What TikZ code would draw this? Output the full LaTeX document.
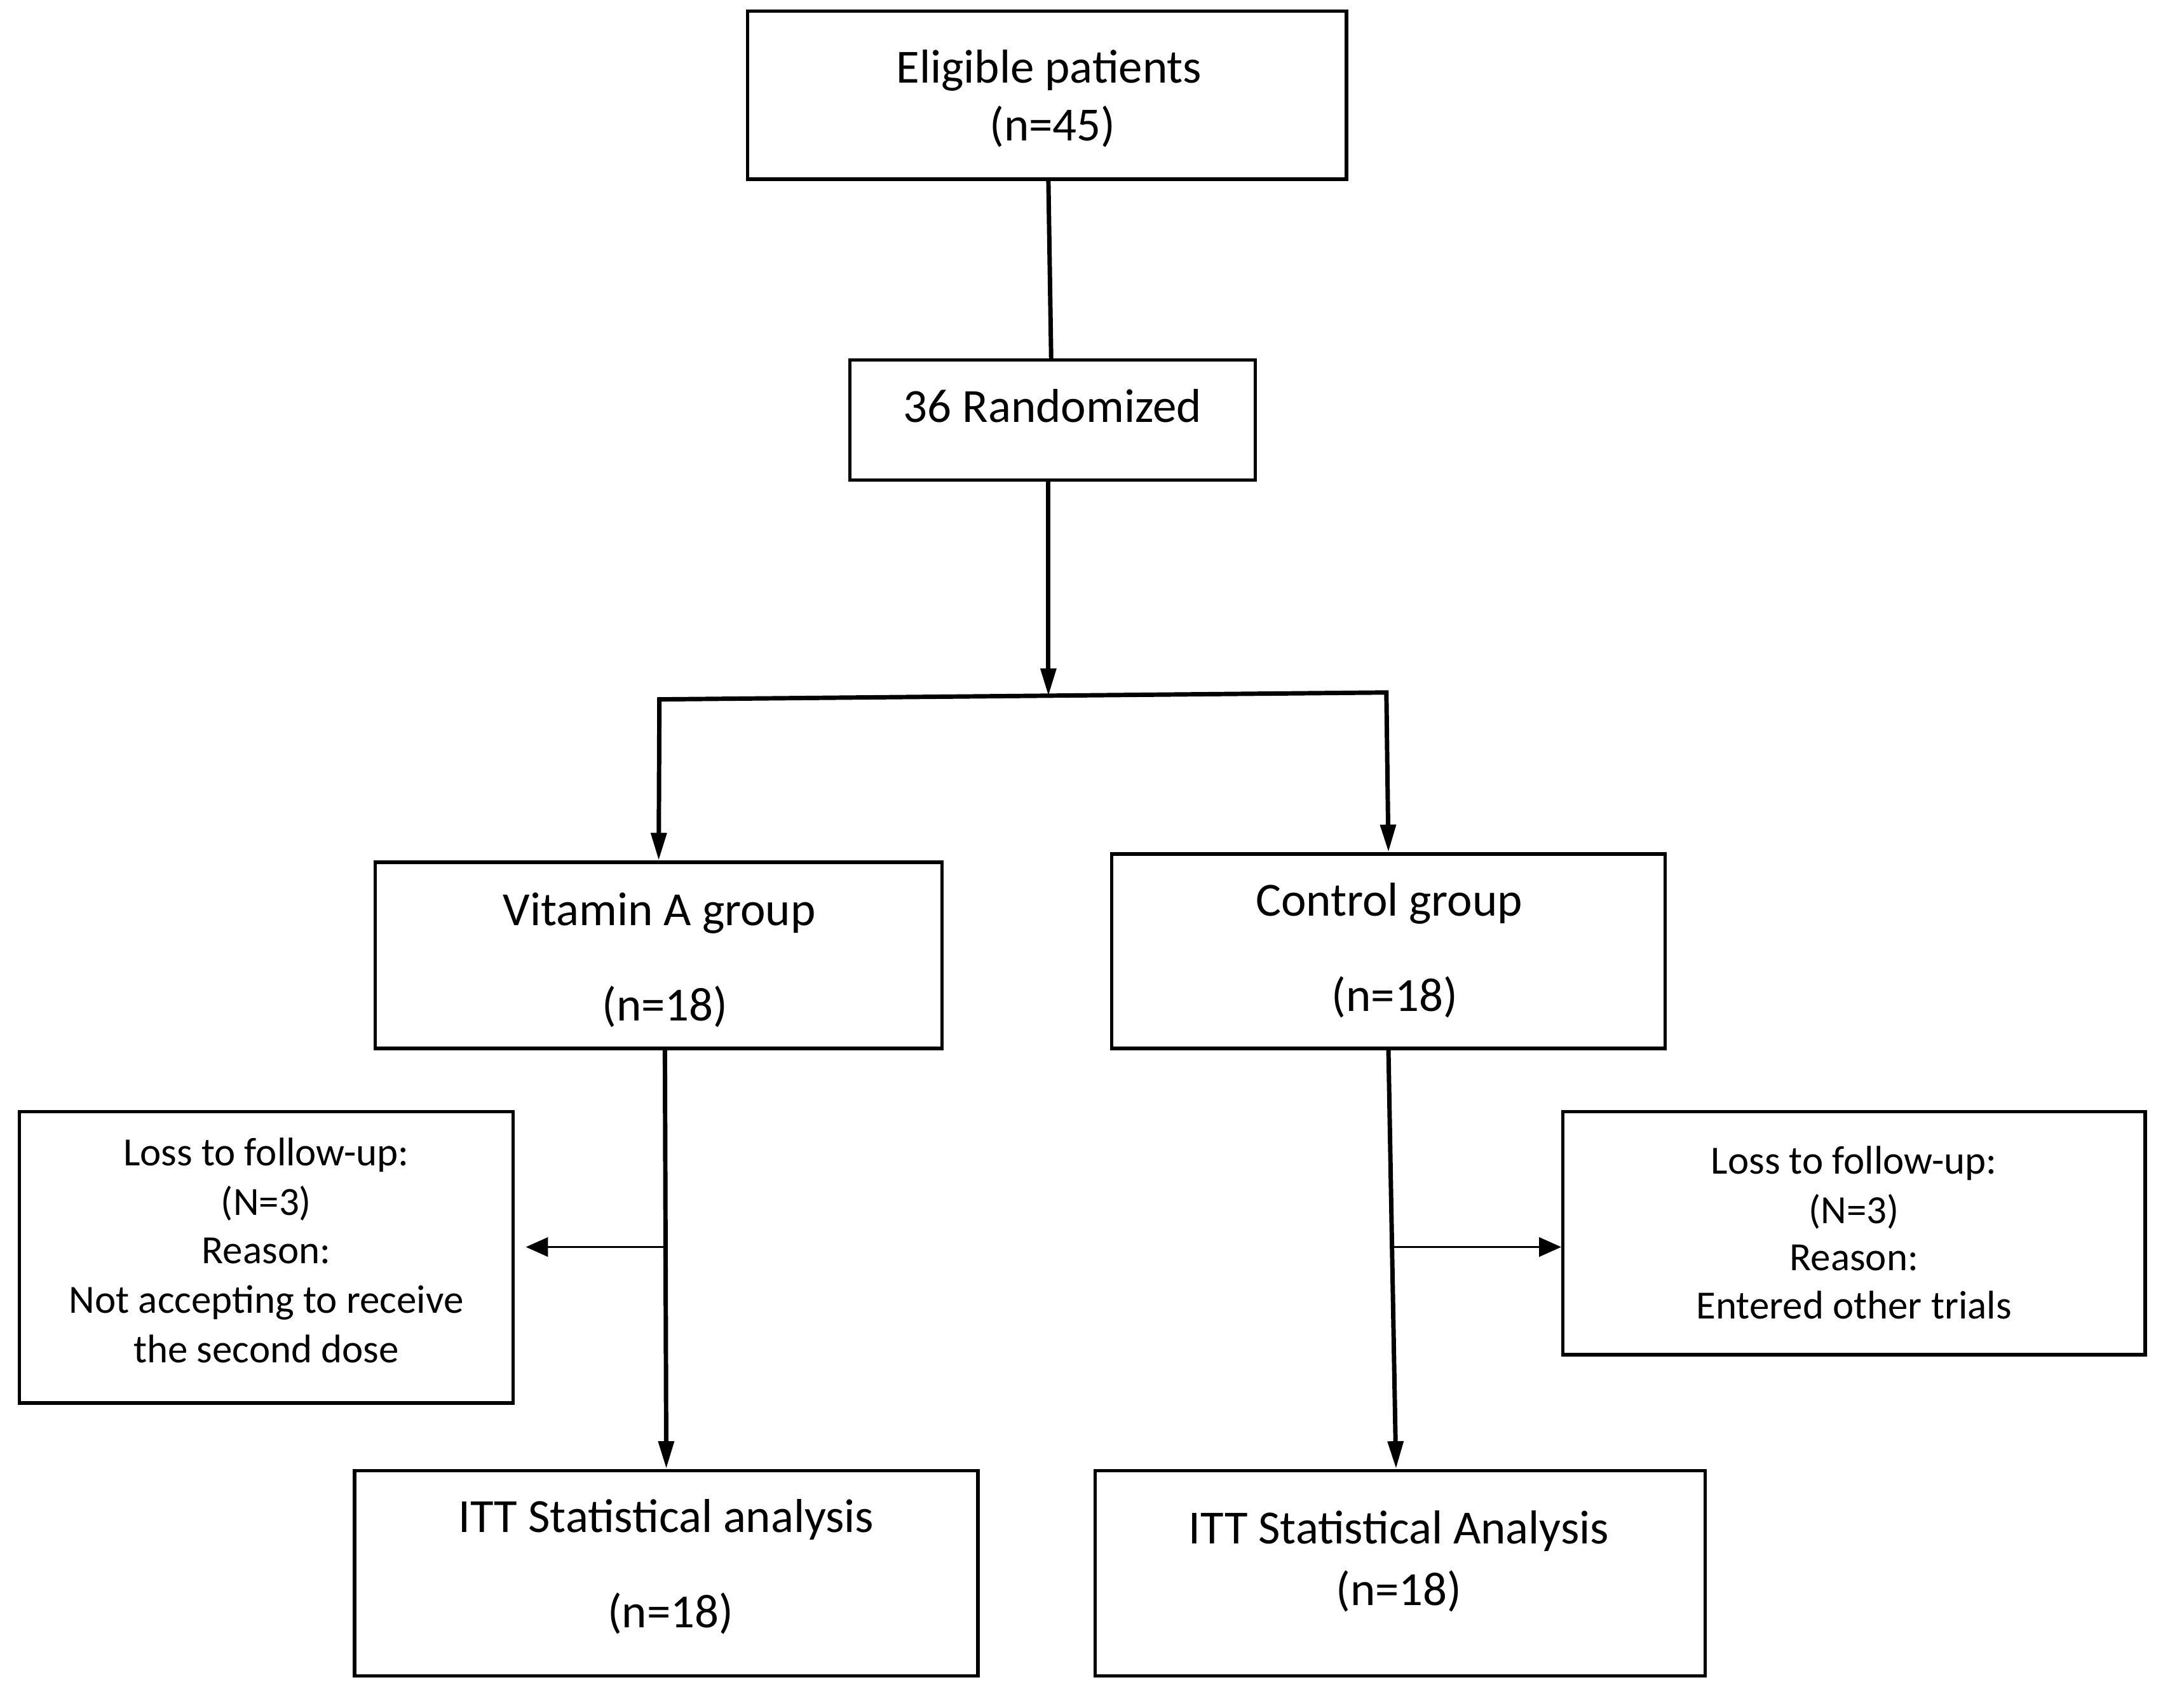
\documentclass[tikz,border=0pt]{standalone}
\usepackage{fontspec}
\setmainfont{Carlito}
\usetikzlibrary{arrows.meta,calc}
\begin{document}
\begin{tikzpicture}[x=1pt,y=-1pt,
  box/.style={draw,line width=2.5pt,rectangle,inner sep=0pt},
  big/.style={font=\fontsize{34.5pt}{43pt}\selectfont,inner sep=0pt,anchor=base},
  small/.style={font=\fontsize{29pt}{36pt}\selectfont,inner sep=0pt,anchor=base},
  mainline/.style={line width=3.2pt,line join=miter},
  arr/.style={mainline,-{Triangle[width=11pt,length=20pt]}},
  sidearr/.style={line width=1.3pt,-{Triangle[width=14pt,length=16pt]}}]
\useasboundingbox[fill=white] (0,0) rectangle (1568,1238);
% boxes
\node[box,minimum width=434pt,minimum height=122pt] (elig) at (759,69) {};
\node[box,minimum width=294pt,minimum height=87pt] (rand) at (763,304.5) {};
\node[box,minimum width=411pt,minimum height=135pt] (vit) at (477.5,692.5) {};
\node[box,minimum width=401pt,minimum height=141pt] (ctl) at (1006.5,689.5) {};
\node[box,minimum width=358pt,minimum height=211pt] (lossL) at (193,911.5) {};
\node[box,minimum width=422pt,minimum height=176pt] (lossR) at (1344,894) {};
\node[box,minimum width=452pt,minimum height=149pt] (ittL) at (483,1140.5) {};
\node[box,minimum width=442pt,minimum height=149pt] (ittR) at (1015,1140.5) {};
% texts
\node[big] (t1) at (760.5,60) {Eligible patients};
\node[big] (t2) at (763,102) {(n=45)};
\node[big] (t3) at (763,306) {36 Randomized};
\node[big] (t4) at (478,671) {Vitamin A group};
\node[big] (t5) at (482,740) {(n=18)};
\node[big] (t6) at (1007,664) {Control group};
\node[big] (t7) at (1011,733) {(n=18)};
\node[big] (t8) at (483,1111) {ITT Statistical analysis};
\node[big] (t9) at (486,1180) {(n=18)};
\node[big] (t10) at (1014,1119) {ITT Statistical Analysis};
\node[big] (t11) at (1014,1164) {(n=18)};
\node[small] (s1) at (193,845) {Loss to follow-up:};
\node[small] (s2) at (193,881) {(N=3)};
\node[small] (s3) at (193,916) {Reason:};
\node[small] (s4) at (193,952) {Not accepting to receive};
\node[small] (s5) at (193,988) {the second dose};
\node[small] (r1) at (1344,851) {Loss to follow-up:};
\node[small] (r2) at (1344,887) {(N=3)};
\node[small] (r3) at (1344,921) {Reason:};
\node[small] (r4) at (1344,956) {Entered other trials};
% connectors
\coordinate (j) at (760,504.5);
\coordinate (cL) at (478,507);
\coordinate (cR) at (1005,502);
\draw[mainline] ($(elig.south)+(1,0)$) -- ($(rand.north)+(-1,0)$);
\draw[arr] (rand.south -| j) -- (j);
\draw[mainline,{Triangle[width=11pt,length=20pt]}-{Triangle[width=11pt,length=20pt]}]
  (vit.north) -- (cL) -- (cR) -- (ctl.north);
\draw[arr] ($(vit.south)+(4.5,0)$) -- (ittL.north);
\draw[arr] (ctl.south) -- ($(ittR.north)+(-3,0)$);
\coordinate (aL) at (482,904);
\coordinate (aR) at (1010,904);
\draw[sidearr,shorten >=8pt] (aL) -- (aL -| lossL.east);
\draw[sidearr] (aR) -- (aR -| lossR.west);
\end{tikzpicture}
\end{document}
